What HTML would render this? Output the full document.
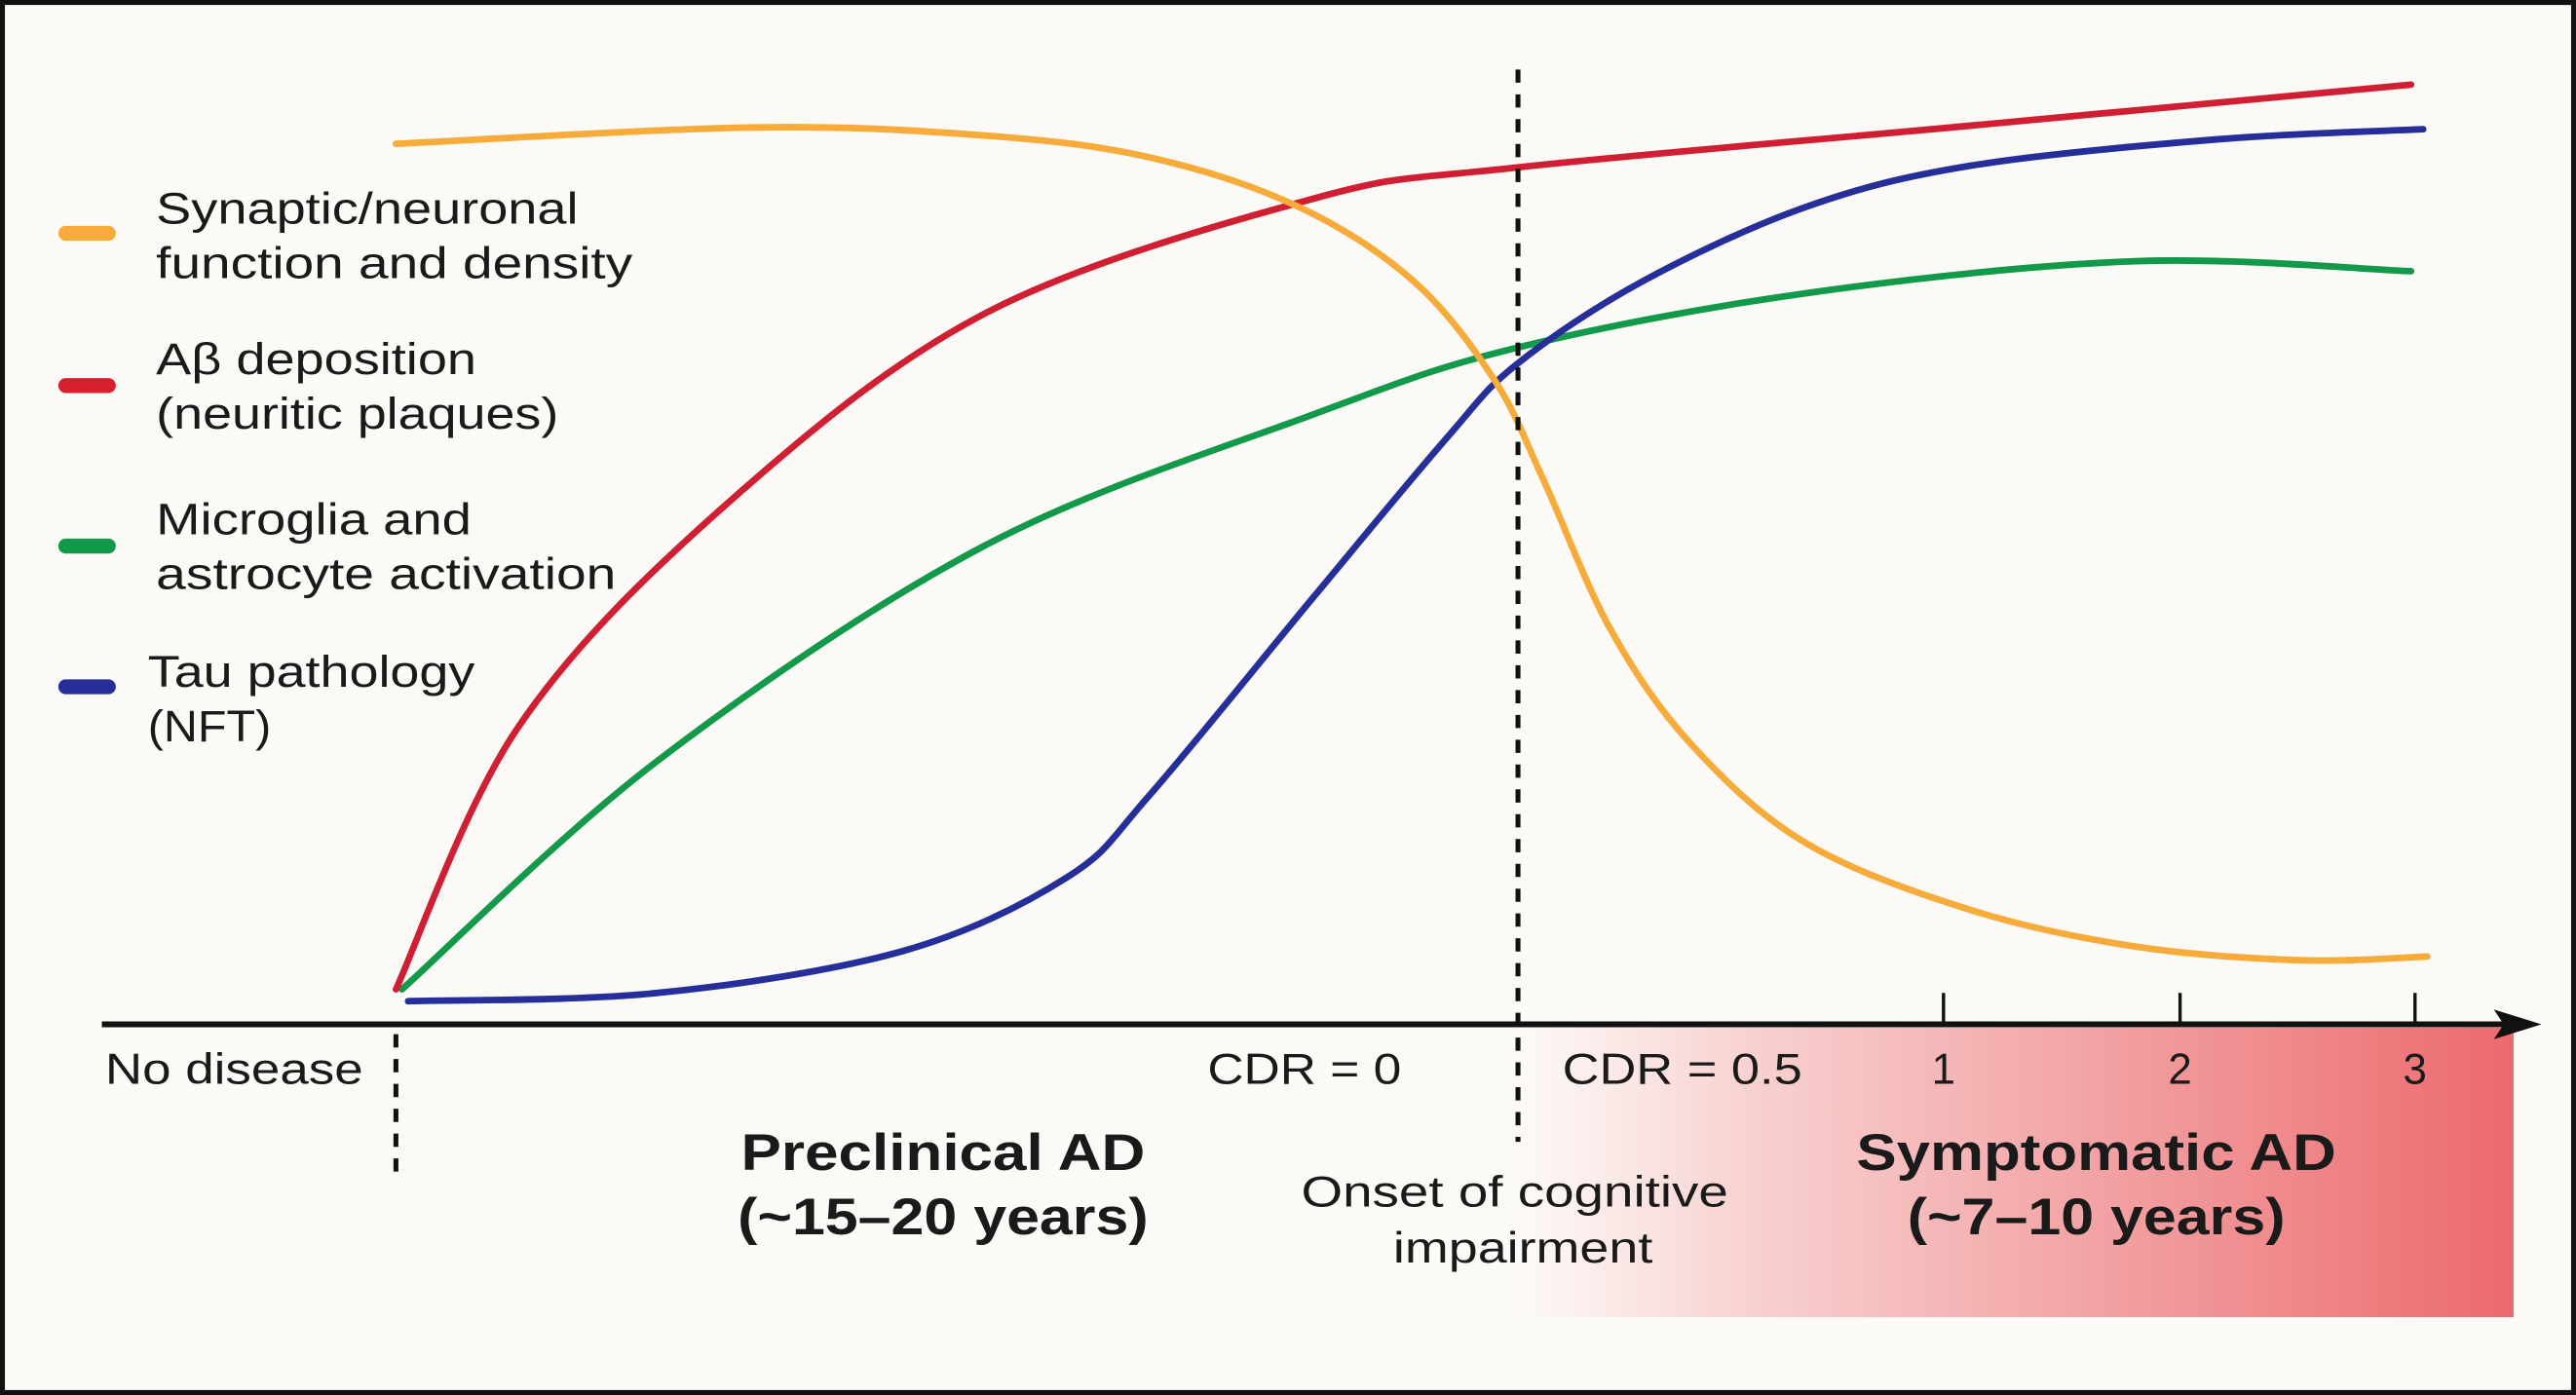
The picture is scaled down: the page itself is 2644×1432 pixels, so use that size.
<!DOCTYPE html>
<html><head><meta charset="utf-8"><style>
html,body{margin:0;padding:0;background:#fff;}
svg{display:block;}
text{font-family:"Liberation Sans",sans-serif;fill:#1a1a1a;}
</style></head><body>
<svg id="chart" width="2644" height="1432" viewBox="0 0 1568 843" preserveAspectRatio="none" xmlns="http://www.w3.org/2000/svg">
<defs>
<linearGradient id="pinkGrad" x1="0" x2="1" y1="0" y2="0">
<stop offset="0" stop-color="#ec6a6e" stop-opacity="0"/>
<stop offset="0.25" stop-color="#ec6a6e" stop-opacity="0.3"/>
<stop offset="1" stop-color="#ec6a6e" stop-opacity="1"/>
</linearGradient>
</defs>
<rect x="1.5" y="1.5" width="1565" height="840" fill="#fcfaf7" stroke="#111" stroke-width="3"/>
<rect x="924" y="621" width="606" height="175" fill="url(#pinkGrad)"/>
<g id="curves"></g>
<line x1="62" y1="619" x2="1530" y2="619" stroke="#111" stroke-width="3.5"/>
<polygon points="1547,619 1518,610 1524,619 1518,628" fill="#111"/>
<line x1="924" y1="42" x2="924" y2="690" stroke="#111" stroke-width="3" stroke-dasharray="8,7"/>
<line x1="241" y1="625" x2="241" y2="710" stroke="#111" stroke-width="3" stroke-dasharray="8,7"/>
<line x1="1183" y1="600" x2="1183" y2="619" stroke="#111" stroke-width="2"/>
<line x1="1327" y1="600" x2="1327" y2="619" stroke="#111" stroke-width="2"/>
<line x1="1470" y1="600" x2="1470" y2="619" stroke="#111" stroke-width="2"/>
<text x="64" y="655" font-size="26" textLength="157" lengthAdjust="spacingAndGlyphs">No disease</text>
<text x="735" y="655" font-size="26" textLength="118" lengthAdjust="spacingAndGlyphs">CDR = 0</text>
<text x="951" y="655" font-size="26" textLength="146" lengthAdjust="spacingAndGlyphs">CDR = 0.5</text>
<text x="1183" y="655" font-size="26" text-anchor="middle">1</text>
<text x="1327" y="655" font-size="26" text-anchor="middle">2</text>
<text x="1470" y="655" font-size="26" text-anchor="middle">3</text>
<text x="451" y="707" font-size="31" font-weight="bold" textLength="246" lengthAdjust="spacingAndGlyphs">Preclinical AD</text>
<text x="449" y="746" font-size="31" font-weight="bold" textLength="250" lengthAdjust="spacingAndGlyphs">(~15–20 years)</text>
<text x="1130" y="707" font-size="31" font-weight="bold" textLength="292" lengthAdjust="spacingAndGlyphs">Symptomatic AD</text>
<text x="1161" y="746" font-size="31" font-weight="bold" textLength="230" lengthAdjust="spacingAndGlyphs">(~7–10 years)</text>
<text x="792" y="729" font-size="26" textLength="260" lengthAdjust="spacingAndGlyphs">Onset of cognitive</text>
<text x="848" y="763" font-size="26" textLength="158" lengthAdjust="spacingAndGlyphs">impairment</text>
<g>
<line x1="40" y1="141" x2="66" y2="141" stroke="#f7ab3a" stroke-width="9" stroke-linecap="round"/>
<text x="95" y="135" font-size="27" textLength="257" lengthAdjust="spacingAndGlyphs">Synaptic/neuronal</text>
<text x="95" y="168" font-size="27" textLength="290" lengthAdjust="spacingAndGlyphs">function and density</text>
<line x1="40" y1="233" x2="66" y2="233" stroke="#d81f30" stroke-width="9" stroke-linecap="round"/>
<text x="95" y="226" font-size="27" textLength="195" lengthAdjust="spacingAndGlyphs">Aβ deposition</text>
<text x="95" y="259" font-size="27" textLength="245" lengthAdjust="spacingAndGlyphs">(neuritic plaques)</text>
<line x1="40" y1="330" x2="66" y2="330" stroke="#129a4a" stroke-width="9" stroke-linecap="round"/>
<text x="95" y="323" font-size="27" textLength="192" lengthAdjust="spacingAndGlyphs">Microglia and</text>
<text x="95" y="356" font-size="27" textLength="280" lengthAdjust="spacingAndGlyphs">astrocyte activation</text>
<line x1="40" y1="415" x2="66" y2="415" stroke="#262f99" stroke-width="9" stroke-linecap="round"/>
<text x="90" y="415" font-size="27" textLength="199" lengthAdjust="spacingAndGlyphs">Tau pathology</text>
<text x="90" y="448" font-size="27" textLength="75" lengthAdjust="spacingAndGlyphs">(NFT)</text>
</g>
</svg>
<script>
const synapticX = [0,17.7,29.1,37.2,44.5,50.2,54.2,56.6,59.9,63.9,69.6,77.7,85.8,93.9,100.2];
const synapticY = [94.2,96,95.1,92.7,87.3,79.1,68.2,57.3,40.9,28.2,17.3,10,6,4.5,4.9];
const abetaX = [0,6,16,29,45.3,55.3,77.7,99.4];
const abetaY = [1.3,30,54,75.5,88.2,91.6,96.2,100.7];
const microgliaX = [0.3,12.9,29,45.3,55.3,69.6,85.8,99.4];
const microgliaY = [1.3,26.4,50,64.5,71.8,77.8,81.3,80.2];
const tauX = [0.6,12.9,25,33.1,37.2,45.3,51.8,55.3,61.5,69.6,77.7,89.9,100];
const tauY = [0,0.9,5.5,13.6,22.7,44.5,61.8,70,79.1,87.3,91.8,94.7,95.8];

function sx(v){return 241 + v*12.34;}
function sy(v){return 605 - v*5.5;}
function pathFor(xs, ys){
  const p = xs.map((x,i)=>[sx(x), sy(ys[i])]);
  let d = 'M'+p[0][0]+','+p[0][1];
  for(let i=0;i<p.length-1;i++){
    const p0=p[Math.max(0,i-1)], p1=p[i], p2=p[i+1], p3=p[Math.min(p.length-1,i+2)];
    const c1x=p1[0]+(p2[0]-p0[0])/6, c1y=p1[1]+(p2[1]-p0[1])/6;
    const c2x=p2[0]-(p3[0]-p1[0])/6, c2y=p2[1]-(p3[1]-p1[1])/6;
    d += ' C'+c1x+','+c1y+' '+c2x+','+c2y+' '+p2[0]+','+p2[1];
  }
  return d;
}
const g = document.getElementById('curves');
function addCurve(xs, ys, color, name){
  const el = document.createElementNS('http://www.w3.org/2000/svg','path');
  el.setAttribute('d', pathFor(xs, ys));
  el.setAttribute('fill','none');
  el.setAttribute('stroke', color);
  el.setAttribute('stroke-width','4');
  el.setAttribute('stroke-linecap','round');
  
  
  g.appendChild(el);
}
addCurve(microgliaX, microgliaY, '#129a4a', 'microglia-curve');
addCurve(abetaX, abetaY, '#d01f32', 'abeta-curve');
addCurve(tauX, tauY, '#262f99', 'tau-curve');
addCurve(synapticX, synapticY, '#f7ab3a', 'synaptic-curve');
</script>
</body></html>
